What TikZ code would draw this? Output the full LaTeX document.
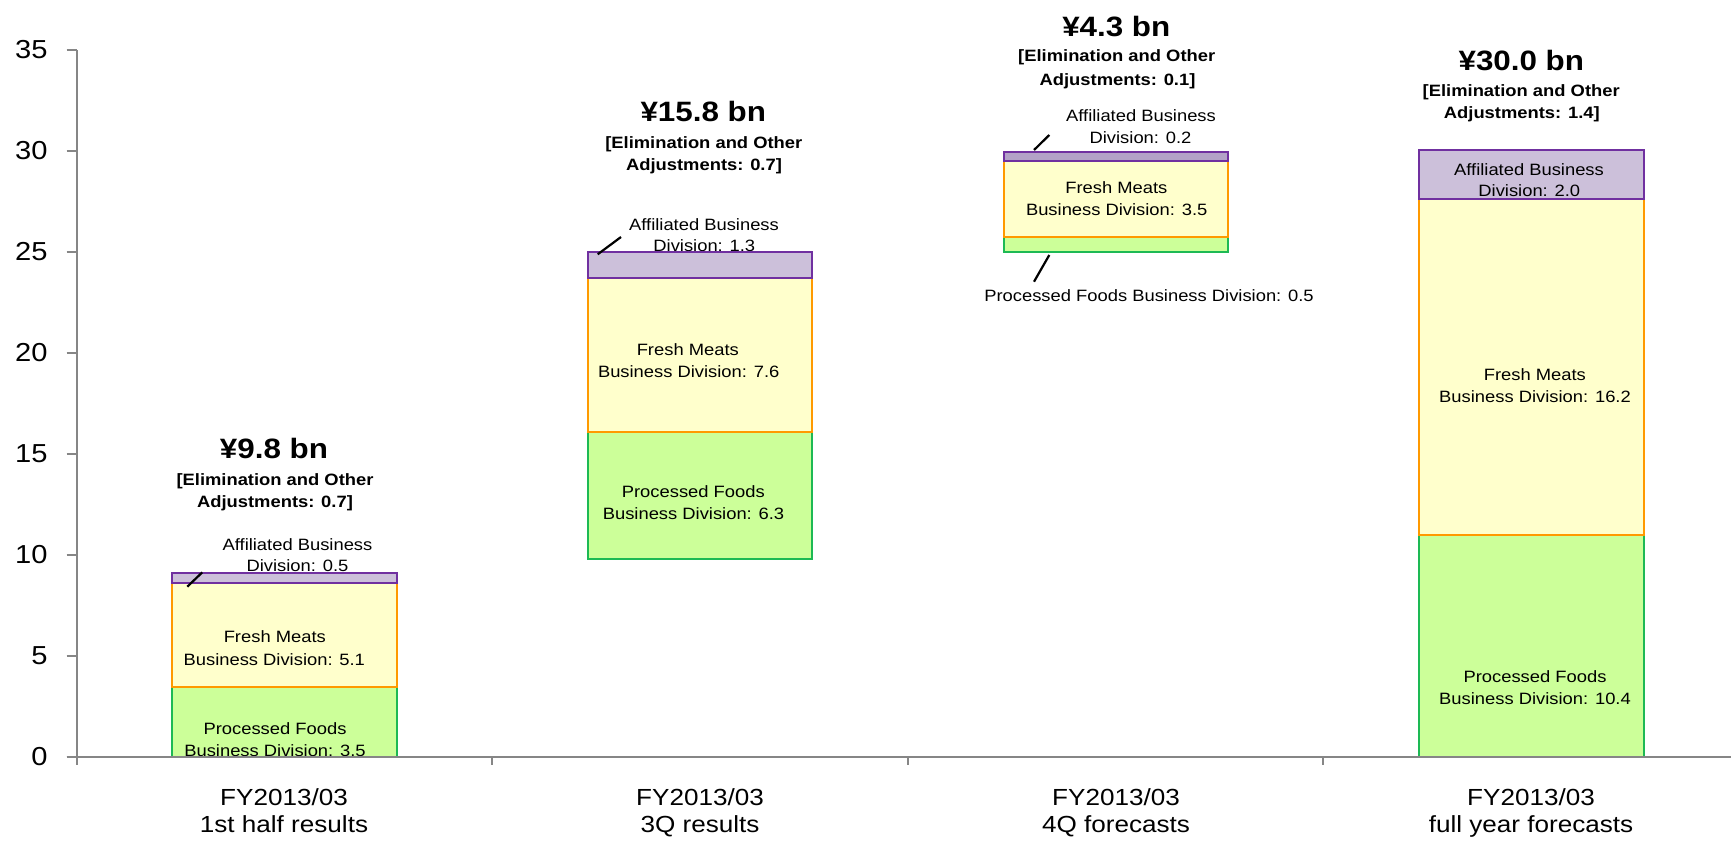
\documentclass[tikz,border=0pt]{standalone}
\usepackage{fontspec}
\setmainfont[FakeStretch=1.12]{Liberation Sans}
\definecolor{gfill}{HTML}{CCFF99}
\definecolor{gline}{HTML}{1DB954}
\definecolor{yfill}{HTML}{FFFFCC}
\definecolor{yline}{HTML}{FF9900}
\definecolor{pfill}{HTML}{CCC0DA}
\definecolor{pfilldark}{HTML}{B3A2C7}
\definecolor{pline}{HTML}{7030A0}
\definecolor{axisgray}{HTML}{868686}
\begin{document}
\begin{tikzpicture}[x=1pt,y=-1pt,
  lab/.style={font=\fontsize{16.4}{20}\selectfont, anchor=base, inner sep=0pt},
  bl/.style={font=\bfseries\fontsize{16.4}{20}\selectfont, anchor=base, inner sep=0pt},
  big/.style={font=\bfseries\fontsize{28}{32}\selectfont, anchor=base, inner sep=0pt},
  cat/.style={font=\fontsize{23.3}{26}\selectfont, anchor=base, inner sep=0pt},
  ticklab/.style={font=\fontsize{26}{30}\selectfont, anchor=east, inner sep=0pt},
  gbar/.style={fill=gfill, draw=gline, line width=2pt},
  ybar/.style={fill=yfill, draw=yline, line width=2pt},
  pbar/.style={fill=pfill, draw=pline, line width=2pt},
  leader/.style={draw=black, line width=2.2pt},
  axisline/.style={draw=axisgray, line width=2pt}
]
\useasboundingbox (0,0) rectangle (1731,841);
\fill[white] (0,0) rectangle (1731,841);

% ---- outside labels (drawn under bars) ----
\node[lab] (a1a) at (297.5,550) {Affiliated Business};
\node[lab] (a1b) at (297.5,571.7) {Division: 0.5};
\node[lab] (a2a) at (704,230) {Affiliated Business};
\node[lab] (a2b) at (704.3,251.7) {Division: 1.3};
\node[lab] (a3a) at (1141,121.7) {Affiliated Business};
\node[lab] (a3b) at (1140.5,143.3) {Division: 0.2};
\node[lab] (p3) at (1149,301.7) {Processed Foods Business Division: 0.5};

% ---- titles ----
\node[big] (t1) at (274,458.3) {¥9.8 bn};
\node[bl] (e1a) at (275,485) {[Elimination and Other};
\node[bl] (e1b) at (275,507.3) {Adjustments: 0.7]};
\node[big] (t2) at (703.3,121.7) {¥15.8 bn};
\node[bl] (e2a) at (703.8,148.3) {[Elimination and Other};
\node[bl] (e2b) at (704,170) {Adjustments: 0.7]};
\node[big] (t3) at (1116.3,36) {¥4.3 bn};
\node[bl] (e3a) at (1116.7,61.7) {[Elimination and Other};
\node[bl] (e3b) at (1117.5,85) {Adjustments: 0.1]};
\node[big] (t4) at (1521.3,70.7) {¥30.0 bn};
\node[bl] (e4a) at (1521.2,96) {[Elimination and Other};
\node[bl] (e4b) at (1521.8,118.7) {Adjustments: 1.4]};

% ---- bars ----
% bar 1
\filldraw[gbar] (172,757) rectangle (396.5,686.7);
\filldraw[ybar] (172,686.7) rectangle (396.5,583.3);
\filldraw[pbar] (172,583.3) rectangle (396.5,573);
% bar 2
\filldraw[gbar] (588,559) rectangle (812.3,431.7);
\filldraw[ybar] (588,431.7) rectangle (812.3,278);
\filldraw[pbar] (588,278) rectangle (812.3,251.7);
% bar 3
\filldraw[gbar] (1003.7,251.7) rectangle (1228.3,237);
\filldraw[ybar] (1003.7,237) rectangle (1228.3,161.3);
\filldraw[pbar, fill=pfilldark] (1003.7,161.3) rectangle (1228.3,152.3);
% bar 4
\filldraw[gbar] (1419.3,757) rectangle (1644,535);
\filldraw[ybar] (1419.3,535) rectangle (1644,199.3);
\filldraw[pbar] (1419.3,199.3) rectangle (1644,150);

% ---- in-bar labels ----
\node[lab] (f1a) at (274.8,642.7) {Fresh Meats};
\node[lab] (f1b) at (274.3,665) {Business Division: 5.1};
\node[lab] (g1a) at (275,734) {Processed Foods};
\node[lab] (g1b) at (275,756) {Business Division: 3.5};
\node[lab] (f2a) at (687.8,355) {Fresh Meats};
\node[lab] (f2b) at (688.7,377.3) {Business Division: 7.6};
\node[lab] (g2a) at (693.3,497.7) {Processed Foods};
\node[lab] (g2b) at (693.5,519.3) {Business Division: 6.3};
\node[lab] (f3a) at (1116.3,193.3) {Fresh Meats};
\node[lab] (f3b) at (1116.7,215) {Business Division: 3.5};
\node[lab] (a4a) at (1529,175) {Affiliated Business};
\node[lab] (a4b) at (1529.3,196.7) {Division: 2.0};
\node[lab] (f4a) at (1534.8,380.7) {Fresh Meats};
\node[lab] (f4b) at (1535,402.7) {Business Division: 16.2};
\node[lab] (g4a) at (1535,682.3) {Processed Foods};
\node[lab] (g4b) at (1535,704.3) {Business Division: 10.4};

% ---- leader lines ----
\coordinate (l1s) at (187.3,586.7);
\coordinate (l1e) at (202.3,572.3);
\coordinate (l2s) at (597.7,254.3);
\coordinate (l2e) at (621,237);
\coordinate (l3s) at (1034,150);
\coordinate (l3e) at (1049.3,135);
\coordinate (l4s) at (1049.3,255);
\coordinate (l4e) at (1034,281.7);
\draw[leader] (l1s) -- (l1e);
\draw[leader] (l2s) -- (l2e);
\draw[leader] (l3s) -- (l3e);
\draw[leader] (l4s) -- (l4e);

% ---- axes ----
\coordinate (ytop) at (76.5,50);
\coordinate (ybot) at (76.5,765);
\coordinate (xl) at (66.7,757);
\coordinate (xr) at (1731,757);
\draw[axisline] (ytop) -- (ybot);
\draw[axisline] (xl) -- (xr);
\foreach \k/\v in {0/0,1/5,2/10,3/15,4/20,5/25,6/30,7/35}{
  \coordinate (yt\k) at (76.5,757-\k*101);
  \draw[axisline] (66.7,757-\k*101) -- (yt\k);
  \node[ticklab] (yl\k) at (47.7,757-\k*101) {\v};
}
\foreach \i/\x in {1/492,2/907.5,3/1323}{
  \coordinate (ct\i) at (\x,757);
  \draw[axisline] (ct\i) -- ++(0,8);
}

% ---- category labels ----
\node[cat] (c1a) at (284,805) {FY2013/03};
\node[cat] (c1b) at (284,832) {1st half results};
\node[cat] (c2a) at (700,805) {FY2013/03};
\node[cat] (c2b) at (700,832) {3Q results};
\node[cat] (c3a) at (1116,805) {FY2013/03};
\node[cat] (c3b) at (1116,832) {4Q forecasts};
\node[cat] (c4a) at (1531,805) {FY2013/03};
\node[cat] (c4b) at (1531,832) {full year forecasts};
\end{tikzpicture}
\end{document}
